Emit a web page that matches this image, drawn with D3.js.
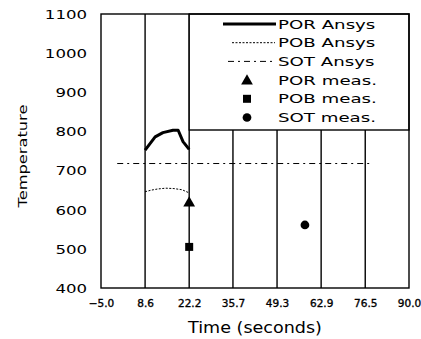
<!DOCTYPE html>
<html>
<head>
<meta charset="utf-8">
<script src="https://cdn.jsdelivr.net/npm/d3@7"></script>
<style>
  html, body { margin: 0; padding: 0; background: #fff; }
  svg { display: block; }
  text { font-family: "DejaVu Sans", sans-serif; fill: #000; }
</style>
</head>
<body>
<svg id="chart" width="421" height="339"></svg>
<script>
// ---- data ----
const xTickValues = [-5.0, 8.6, 22.2, 35.7, 49.3, 62.9, 76.5, 90.0];
const yTickValues = [400, 500, 600, 700, 800, 900, 1000, 1100];

const porAnsysTime = [8.6, 11.7, 14.1, 17.2, 18.8, 20.3, 22.2];
const porAnsysTemp = [752, 786, 797, 803, 803, 774, 754];

const pobAnsysTime = [8.6, 10.5, 12.5, 15.0, 17.5, 20.0, 22.2];
const pobAnsysTemp = [646, 650, 653, 655, 654, 651, 643];

const sotAnsysTime = [0.0, 78.6];
const sotAnsysTemp = [718, 718];

const porMeasTime = [22.2];
const porMeasTemp = [617];
const pobMeasTime = [22.2];
const pobMeasTemp = [505];
const sotMeasTime = [57.9];
const sotMeasTemp = [561];

const legendLabels = ["POR Ansys", "POB Ansys", "SOT Ansys", "POR meas.", "POB meas.", "SOT meas."];

// ---- layout ----
const svg = d3.select("#chart");
const L = 101, R = 409, T = 14, B = 288;
const x = d3.scaleLinear().domain([-5, 90]).range([L, R]);
const y = d3.scaleLinear().domain([400, 1100]).range([B, T]);

// gridlines
svg.append("g").selectAll("line")
  .data(xTickValues.slice(1, -1))
  .join("line")
  .attr("x1", d => x(d)).attr("x2", d => x(d))
  .attr("y1", B).attr("y2", T)
  .attr("stroke", "#000").attr("stroke-width", 1.4);

// axes
const xAxis = svg.append("g").attr("transform", `translate(0,${B})`)
  .call(d3.axisBottom(x).tickValues(xTickValues).tickFormat(d3.format(".1f")).tickSize(0).tickPadding(0));
xAxis.select(".domain").remove();
xAxis.selectAll("text")
  .attr("y", 0).attr("dy", null)
  .attr("transform", "translate(0,19)")
  .style("font-size", "10.5px")
  .style("stroke", "#000")
  .style("stroke-width", "0.35px")
  .attr("text-anchor", "middle");

const yAxis = svg.append("g").attr("transform", `translate(${L},0)`)
  .call(d3.axisLeft(y).tickValues(yTickValues).tickFormat(d3.format("d")).tickSize(0).tickPadding(0));
yAxis.select(".domain").remove();
yAxis.selectAll("text")
  .attr("x", 0).attr("dy", "0.36em")
  .attr("transform", "translate(-14,0) scale(1.38,1)")
  .style("font-size", "12px")
  .attr("text-anchor", "end");

// axis titles
svg.append("text")
  .attr("transform", `translate(${(L + R) / 2},333) scale(1.17,1)`)
  .attr("text-anchor", "middle")
  .style("font-size", "15px")
  .text("Time (seconds)");
svg.append("text")
  .attr("transform", `translate(27,${(T + B) / 2 + 5}) rotate(-90) scale(1.25,1)`)
  .attr("text-anchor", "middle")
  .style("font-size", "13px")
  .text("Temperature");

// series lines
const line = d3.line().x(d => x(d[0])).y(d => y(d[1]));
const zip = (a, b) => a.map((v, i) => [v, b[i]]);

svg.append("path").datum(zip(sotAnsysTime, sotAnsysTemp))
  .attr("d", line).attr("fill", "none").attr("stroke", "#000")
  .attr("stroke-width", 1).attr("stroke-dasharray", "6,4,2,4");
svg.append("path").datum(zip(pobAnsysTime, pobAnsysTemp))
  .attr("d", line).attr("fill", "none").attr("stroke", "#000")
  .attr("stroke-width", 1).attr("stroke-dasharray", "2,1.5");
svg.append("path").datum(zip(porAnsysTime, porAnsysTemp))
  .attr("d", line).attr("fill", "none").attr("stroke", "#000")
  .attr("stroke-width", 3).attr("stroke-linejoin", "round");

// markers
const tri = d3.symbol().type(d3.symbolTriangle).size(60);
const sq = d3.symbol().type(d3.symbolSquare).size(64);
const circ = d3.symbol().type(d3.symbolCircle).size(60);

svg.append("g").selectAll("path").data(zip(porMeasTime, porMeasTemp)).join("path")
  .attr("d", tri).attr("transform", d => `translate(${x(d[0])},${y(d[1])})`).attr("fill", "#000");
svg.append("g").selectAll("path").data(zip(pobMeasTime, pobMeasTemp)).join("path")
  .attr("d", sq).attr("transform", d => `translate(${x(d[0])},${y(d[1])})`).attr("fill", "#000");
svg.append("g").selectAll("path").data(zip(sotMeasTime, sotMeasTemp)).join("path")
  .attr("d", circ).attr("transform", d => `translate(${x(d[0])},${y(d[1])})`).attr("fill", "#000");

// legend box
const legLeft = x(22.2), legBottom = 130;
svg.append("rect")
  .attr("x", legLeft).attr("y", T)
  .attr("width", R - legLeft).attr("height", legBottom - T)
  .attr("fill", "#fff").attr("stroke", "#000").attr("stroke-width", 1.4);

const rowY = i => 24 + i * 18.7;
const leg = svg.append("g");
leg.selectAll("text").data(legendLabels).join("text")
  .attr("transform", (d, i) => `translate(278,${rowY(i) + 4.6}) scale(1.4,1)`)
  .style("font-size", "13px")
  .text(d => d);

leg.append("line").attr("x1", 223).attr("x2", 276).attr("y1", rowY(0)).attr("y2", rowY(0))
  .attr("stroke", "#000").attr("stroke-width", 3);
leg.append("line").attr("x1", 232).attr("x2", 275).attr("y1", rowY(1)).attr("y2", rowY(1))
  .attr("stroke", "#000").attr("stroke-width", 1).attr("stroke-dasharray", "2,1.5");
leg.append("line").attr("x1", 228).attr("x2", 275).attr("y1", rowY(2)).attr("y2", rowY(2))
  .attr("stroke", "#000").attr("stroke-width", 1).attr("stroke-dasharray", "6,4,2,4");
leg.append("path").attr("d", tri).attr("transform", `translate(247,${rowY(3) + 1})`).attr("fill", "#000");
leg.append("path").attr("d", sq).attr("transform", `translate(247,${rowY(4)})`).attr("fill", "#000");
leg.append("path").attr("d", circ).attr("transform", `translate(247,${rowY(5)})`).attr("fill", "#000");

// frame
svg.append("rect")
  .attr("x", L).attr("y", T).attr("width", R - L).attr("height", B - T)
  .attr("fill", "none").attr("stroke", "#000").attr("stroke-width", 1.4);
</script>
</body>
</html>
